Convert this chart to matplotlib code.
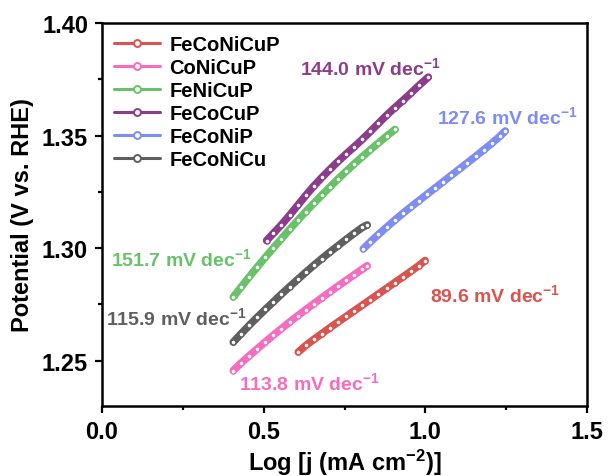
import matplotlib
matplotlib.use("Agg")
import matplotlib.pyplot as plt

# Tafel data (log j, potential)
labels = ["FeCoNiCuP", "CoNiCuP", "FeNiCuP", "FeCoCuP", "FeCoNiP", "FeCoNiCu"]
colors = ["#d9534f", "#f66cc0", "#69c169", "#8b3c8b", "#7d8df3", "#5f5f5f"]

x_feconicup = [0.607, 0.63, 0.655, 0.68, 0.705, 0.73, 0.755, 0.78, 0.805, 0.83,
               0.855, 0.88, 0.905, 0.93, 0.955, 0.98, 0.999]
y_feconicup = [1.2539, 1.2568, 1.2595, 1.2621, 1.2647, 1.2672, 1.2697, 1.2722, 1.2747,
               1.2772, 1.2797, 1.2822, 1.2847, 1.2872, 1.2897, 1.2923, 1.2945]

x_conicup = [0.406, 0.43, 0.455, 0.48, 0.505, 0.53, 0.555, 0.58, 0.605, 0.63,
             0.655, 0.68, 0.705, 0.73, 0.755, 0.78, 0.805, 0.82]
y_conicup = [1.2457, 1.2490, 1.2522, 1.2553, 1.2584, 1.2614, 1.2643, 1.2672, 1.2700,
             1.2727, 1.2754, 1.2780, 1.2806, 1.2832, 1.2857, 1.2882, 1.2907, 1.2922]

x_fenicup = [0.406, 0.43, 0.455, 0.48, 0.505, 0.53, 0.555, 0.58, 0.605, 0.63, 0.655,
             0.68, 0.705, 0.73, 0.755, 0.78, 0.805, 0.83, 0.855, 0.88, 0.906]
y_fenicup = [1.2783, 1.2827, 1.2872, 1.2916, 1.2959, 1.3001, 1.3042, 1.3083, 1.3123,
             1.3162, 1.3199, 1.3236, 1.3272, 1.3307, 1.3341, 1.3374, 1.3406, 1.3437,
             1.3467, 1.3497, 1.3527]

x_fecocup = [0.509, 0.53, 0.555, 0.58, 0.605, 0.63, 0.655, 0.68, 0.705, 0.73, 0.755,
             0.78, 0.805, 0.83, 0.855, 0.88, 0.905, 0.93, 0.955, 0.98, 1.009]
y_fecocup = [1.3034, 1.3066, 1.3104, 1.3146, 1.3190, 1.3234, 1.3276, 1.3314, 1.3350,
             1.3385, 1.3418, 1.3450, 1.3483, 1.3518, 1.3554, 1.3590, 1.3623, 1.3655,
             1.3688, 1.3722, 1.3759]

x_feconip = [0.808, 0.83, 0.855, 0.88, 0.905, 0.93, 0.955, 0.98, 1.005, 1.03, 1.055,
             1.08, 1.105, 1.13, 1.155, 1.18, 1.205, 1.23, 1.247]
y_feconip = [1.2997, 1.3028, 1.3061, 1.3093, 1.3124, 1.3154, 1.3183, 1.3211, 1.3239,
             1.3267, 1.3295, 1.3323, 1.3351, 1.3379, 1.3407, 1.3436, 1.3465, 1.3496,
             1.3520]

x_feconicu = [0.406, 0.43, 0.455, 0.48, 0.505, 0.53, 0.555, 0.58, 0.605, 0.63,
              0.655, 0.68, 0.705, 0.73, 0.755, 0.78, 0.805, 0.82]
y_feconicu = [1.2583, 1.2620, 1.2657, 1.2693, 1.2728, 1.2762, 1.2796, 1.2829, 1.2861,
              1.2893, 1.2924, 1.2954, 1.2983, 1.3011, 1.3039, 1.3066, 1.3092, 1.3103]

xs = [x_feconicup, x_conicup, x_fenicup, x_fecocup, x_feconip, x_feconicu]
ys = [y_feconicup, y_conicup, y_fenicup, y_fecocup, y_feconip, y_feconicu]

slopes = ["89.6", "113.8", "151.7", "144.0", "127.6", "115.9"]
slope_pos = [(1.216, 1.2797), (0.643, 1.2405), (0.245, 1.2957),
             (0.829, 1.3805), (1.253, 1.3587), (0.23, 1.2695)]

plt.rcParams["font.family"] = ["Liberation Sans", "DejaVu Sans"]
plt.rcParams["font.weight"] = "bold"
plt.rcParams["mathtext.fontset"] = "custom"
plt.rcParams["mathtext.rm"] = "Liberation Sans:bold"
plt.rcParams["mathtext.default"] = "rm"

fig = plt.figure(figsize=(6.09, 4.77), dpi=100)
ax = fig.add_axes([0.1675, 0.147, 0.7965, 0.803])

for x, y, c, lab in zip(xs, ys, colors, labels):
    ax.plot(x, y, color=c, lw=5.5, marker="o", ms=3.6, mfc="#fafafa", mec=c,
            mew=1.0, label=lab, solid_capstyle="round")

for s, (px, py), c in zip(slopes, slope_pos, colors):
    ax.text(px, py, s + " mV dec$^{-1}$", color=c, fontsize=14, fontweight="bold",
            ha="center", va="center")

ax.set_xlim(0.0, 1.5)
ax.set_ylim(1.23, 1.40)
ax.set_xticks([0.0, 0.5, 1.0, 1.5])
ax.set_xticks([0.25, 0.75, 1.25], minor=True)
ax.set_yticks([1.25, 1.30, 1.35, 1.40])
ax.set_yticks([1.275, 1.325, 1.375], minor=True)
ax.set_xticklabels(["0.0", "0.5", "1.0", "1.5"])
ax.set_yticklabels(["1.25", "1.30", "1.35", "1.40"])
ax.tick_params(axis="both", which="major", labelsize=17, width=1.6, length=5, pad=5)
ax.tick_params(axis="both", which="minor", width=1.6, length=3)
for sp in ax.spines.values():
    sp.set_linewidth(1.8)

ax.set_xlabel("Log [j (mA cm$^{-2}$)]", fontsize=17, fontweight="bold", labelpad=3)
ax.set_ylabel("Potential (V vs. RHE)", fontsize=17, fontweight="bold", labelpad=6)

leg = ax.legend(loc="upper left", frameon=False, fontsize=14.5, numpoints=1,
                handlelength=2.3, handletextpad=0.45, labelspacing=0.2,
                borderaxespad=0.2, bbox_to_anchor=(0.0, 1.0))
for h in leg.get_lines():
    h.set_linewidth(2.2)
    h.set_markersize(5)
    h.set_markeredgewidth(1.4)

fig.savefig("out.png", dpi=100)
